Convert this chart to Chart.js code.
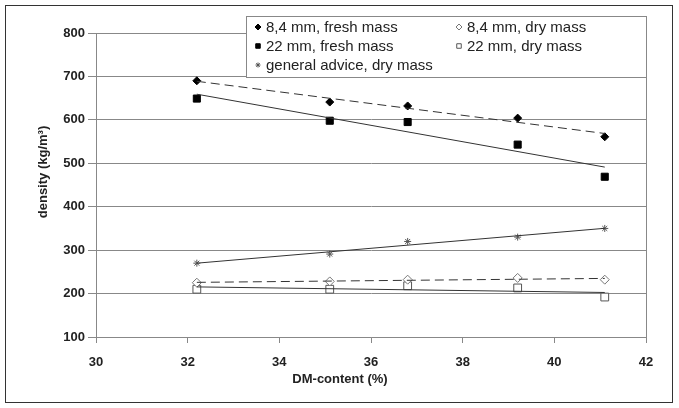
<!DOCTYPE html>
<html lang="en">
<head>
  <meta charset="UTF-8">
  <title>Density vs DM-content</title>
  <script src="https://cdn.jsdelivr.net/npm/chart.js"></script>
  <style>
    body { margin: 0; background: #fff; }
    #wrap { width: 679px; height: 408px; }
  </style>
</head>
<body>
<div id="wrap"><canvas id="densityChart" width="679" height="408"></canvas></div>

<script>
  // values
  var dmContent = [32.2, 35.1, 36.8, 39.2, 41.1];
  var fresh84 = [690, 641, 632, 604, 561];
  var fresh22 = [649, 598, 595, 543, 469];
  var adviceDry = [270, 291, 320, 330, 350];
  var dry84 = [225, 228, 232, 236, 232];
  var dry22 = [210, 210, 218, 213, 192];
  var xTicks = [30, 32, 34, 36, 38, 40, 42];
  var yTicks = [100, 200, 300, 400, 500, 600, 700, 800];

  var seriesNames = ['8,4 mm, fresh mass', '22 mm, fresh mass', 'general advice, dry mass',
                     '8,4 mm, dry mass', '22 mm, dry mass'];
  var xTitle = 'DM-content (%)';
  var yTitle = 'density (kg/m³)';

  function toPoints(ys) {
    return dmContent.map(function(x, i) { return { x: x, y: ys[i] }; });
  }

  // linear trendline (least squares), evaluated at the first and last x
  function trend(ys) {
    var n = dmContent.length, mx = 0, my = 0, sxy = 0, sxx = 0;
    for (var i = 0; i < n; i++) { mx += dmContent[i] / n; my += ys[i] / n; }
    for (var j = 0; j < n; j++) {
      sxy += (dmContent[j] - mx) * (ys[j] - my);
      sxx += (dmContent[j] - mx) * (dmContent[j] - mx);
    }
    var b = sxy / sxx, a = my - b * mx;
    var x0 = dmContent[0], x1 = dmContent[n - 1];
    return [{ x: x0, y: a + b * x0 }, { x: x1, y: a + b * x1 }];
  }

  function trendSet(ys, dashed) {
    return {
      type: 'line', data: trend(ys), borderColor: '#333', borderWidth: 1,
      borderDash: dashed ? [9, 5] : [], pointRadius: 0, fill: false
    };
  }

  function markSet(label, ys, style, radius, fillColor, strokeColor) {
    return {
      type: 'scatter', label: label, data: toPoints(ys), pointStyle: style,
      pointRadius: radius, pointHoverRadius: radius, backgroundColor: fillColor,
      borderColor: strokeColor, borderWidth: 1
    };
  }

  var markers = [
    markSet(seriesNames[0], fresh84, 'rectRot', 4, '#000', '#000'),
    markSet(seriesNames[1], fresh22, 'rect', 5, '#000', '#000'),
    markSet(seriesNames[2], adviceDry, 'star', 3.5, '#555', '#555'),
    markSet(seriesNames[3], dry84, 'rectRot', 4.5, '#fff', '#777'),
    markSet(seriesNames[4], dry22, 'rect', 5.5, '#fff', '#555')
  ];

  var trends = [
    trendSet(fresh84, true),
    trendSet(fresh22, false),
    trendSet(adviceDry, false),
    trendSet(dry84, true),
    trendSet(dry22, false)
  ];

  var fontFamily = '"Liberation Sans", Arial, sans-serif';

  // frame, right border of plot, axis titles and the boxed legend
  var framePlugin = {
    id: 'frame',
    afterDraw: function(chart) {
      var ctx = chart.ctx, area = chart.chartArea;
      ctx.save();
      ctx.strokeStyle = '#333';
      ctx.lineWidth = 1;
      ctx.strokeRect(5.5, 5.5, 667, 397);
      ctx.strokeStyle = '#888';
      ctx.beginPath();
      ctx.moveTo(Math.round(area.right) + 0.5, 16);
      ctx.lineTo(Math.round(area.right) + 0.5, area.bottom);
      ctx.stroke();

      // axis titles (Excel centres these on the chart, not the plot)
      ctx.fillStyle = '#222';
      ctx.font = 'bold 13px ' + fontFamily;
      ctx.textAlign = 'center';
      ctx.textBaseline = 'middle';
      ctx.fillText(xTitle, 340, 379);
      ctx.save();
      ctx.translate(43, 172);
      ctx.rotate(-Math.PI / 2);
      ctx.fillText(yTitle, 0, 0);
      ctx.restore();

      // legend box
      var lx = 246, ly = 16, lw = Math.round(area.right) - lx, lh = 61;
      ctx.fillStyle = '#fff';
      ctx.fillRect(lx, ly, lw, lh);
      ctx.strokeStyle = '#888';
      ctx.strokeRect(lx + 0.5, ly + 0.5, lw, lh);

      var slots = [[258, 27], [258, 46], [258, 65], [459, 27], [459, 46]];
      var sizes = [3, 3.2, 2.5, 3, 3.2];
      ctx.font = '15px ' + fontFamily;
      ctx.textAlign = 'left';
      markers.forEach(function(ds, i) {
        var sx = slots[i][0], sy = slots[i][1];
        ctx.fillStyle = ds.backgroundColor;
        ctx.strokeStyle = ds.borderColor;
        ctx.lineWidth = 1;
        Chart.helpers.drawPoint(ctx, {
          pointStyle: ds.pointStyle, radius: sizes[i], borderWidth: 1, rotation: 0
        }, sx, sy);
        ctx.fillStyle = '#222';
        ctx.fillText(ds.label, sx + 8, sy + 1);
      });
      ctx.restore();
    }
  };

  var tickFont = { family: fontFamily, size: 13, weight: 'bold' };

  new Chart(document.getElementById('densityChart'), {
    type: 'scatter',
    data: { datasets: trends.concat(markers) },
    options: {
      responsive: false,
      animation: false,
      events: [],
      layout: { padding: { left: 0, top: 33, right: 33, bottom: 0 } },
      plugins: { legend: { display: false }, tooltip: { enabled: false } },
      scales: {
        x: {
          type: 'linear', min: 30, max: 42,
          afterBuildTicks: function(scale) { scale.ticks = xTicks.map(function(v) { return { value: v }; }); },
          afterFit: function(scale) { scale.height = 71; },
          grid: { drawOnChartArea: false, drawTicks: true, tickLength: 6, color: '#888' },
          border: { color: '#888' },
          ticks: { font: tickFont, color: '#222', padding: 12, maxRotation: 0 }
        },
        y: {
          type: 'linear', min: 100, max: 800,
          afterBuildTicks: function(scale) { scale.ticks = yTicks.map(function(v) { return { value: v }; }); },
          afterFit: function(scale) { scale.width = 96; },
          grid: { color: '#888', tickLength: 8 },
          border: { color: '#888' },
          ticks: { font: tickFont, color: '#222', padding: 3 }
        }
      }
    },
    plugins: [framePlugin]
  });
</script>
</body>
</html>
